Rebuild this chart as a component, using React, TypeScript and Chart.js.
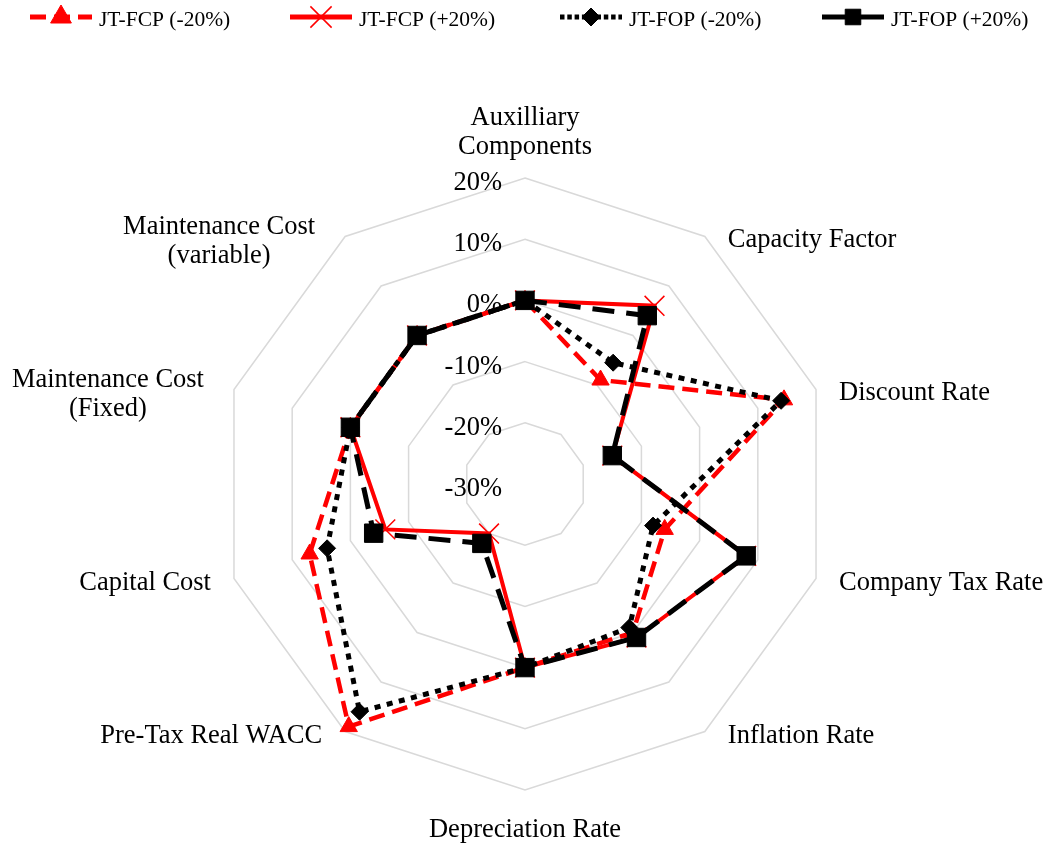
import React, { useEffect, useRef } from 'react';
import { Chart, registerables } from 'chart.js';

Chart.register(...registerables);

// ---------- data ----------
const categories: string[][] = [
  ['Auxilliary', 'Components'],
  ['Capacity Factor'],
  ['Discount Rate'],
  ['Company Tax Rate'],
  ['Inflation Rate'],
  ['Depreciation Rate'],
  ['Pre-Tax Real WACC'],
  ['Capital Cost'],
  ['Maintenance Cost', '(Fixed)'],
  ['Maintenance Cost', '(variable)'],
];

const seriesNames = ['JT-FCP (-20%)', 'JT-FCP (+20%)', 'JT-FOP (-20%)', 'JT-FOP (+20%)'];

const fcpMinus20 = [0, -9, 14.5, -6, 0, 0, 19, 7, 0, 0];
const fcpPlus20 = [0, 6, -15, 8, 1, 0, -20, -6, 0, 0];
const fopMinus20 = [0, -5.5, 14, -8, -1, 0, 16, 4, 0, 0];
const fopPlus20 = [0, 4, -15, 8, 1, 0, -18, -4, 0, 0];

const scaleMin = -30;
const scaleMax = 20;
const scaleStep = 10;

// ---------- styles ----------
const FONT = '"Liberation Serif", "Times New Roman", serif';

type SeriesStyle = {
  color: string;
  dash: number[];
  legendDash: number[];
  width: number;
  point: 'triangle' | 'crossRot' | 'rectRot' | 'rect';
  radius: number;
  legendRadius: number;
  pbw: number;
  order: number;
};

const styles: SeriesStyle[] = [
  { color: '#ff0000', dash: [16, 8], legendDash: [16, 8], width: 4.5, point: 'triangle', radius: 10, legendRadius: 12, pbw: 1, order: 4 },
  { color: '#ff0000', dash: [], legendDash: [], width: 4, point: 'crossRot', radius: 14, legendRadius: 15, pbw: 1.5, order: 3 },
  { color: '#000000', dash: [6, 6.5], legendDash: [4.5, 2.8], width: 5, point: 'rectRot', radius: 8.5, legendRadius: 9, pbw: 1, order: 2 },
  { color: '#000000', dash: [22, 12], legendDash: [], width: 5, point: 'rect', radius: 13, legendRadius: 11, pbw: 1, order: 1 },
];

const seriesData = [fcpMinus20, fcpPlus20, fopMinus20, fopPlus20];

function drawMarker(ctx: CanvasRenderingContext2D, st: SeriesStyle, x: number, y: number, r: number) {
  ctx.save();
  ctx.setLineDash([]);
  ctx.fillStyle = st.color;
  ctx.strokeStyle = st.color;
  ctx.lineWidth = st.pbw;
  ctx.beginPath();
  if (st.point === 'triangle') {
    ctx.moveTo(x, y - r);
    ctx.lineTo(x + r * 0.866, y + r * 0.5);
    ctx.lineTo(x - r * 0.866, y + r * 0.5);
    ctx.closePath();
    ctx.fill();
    ctx.stroke();
  } else if (st.point === 'crossRot') {
    const o = r * Math.SQRT1_2;
    ctx.moveTo(x - o, y - o);
    ctx.lineTo(x + o, y + o);
    ctx.moveTo(x - o, y + o);
    ctx.lineTo(x + o, y - o);
    ctx.stroke();
  } else if (st.point === 'rectRot') {
    ctx.moveTo(x, y - r);
    ctx.lineTo(x + r, y);
    ctx.lineTo(x, y + r);
    ctx.lineTo(x - r, y);
    ctx.closePath();
    ctx.fill();
    ctx.stroke();
  } else {
    const s = r * Math.SQRT1_2;
    ctx.rect(x - s, y - s, 2 * s, 2 * s);
    ctx.fill();
    ctx.stroke();
  }
  ctx.restore();
}

const legendStarts = [30, 290, 560, 822];

const decorPlugin = {
  id: 'decor',
  beforeDatasetsDraw(chart: any) {
    const s = chart.scales.r;
    const ctx: CanvasRenderingContext2D = chart.ctx;
    ctx.save();
    ctx.font = `26.5px ${FONT}`;
    ctx.fillStyle = '#000';
    ctx.textAlign = 'right';
    ctx.textBaseline = 'middle';
    s.ticks.forEach((t: any) => {
      const d = s.getDistanceFromCenterForValue(t.value);
      ctx.fillText(String(t.label), s.xCenter - 23, s.yCenter - d + 5);
    });
    ctx.restore();
  },
  afterDraw(chart: any) {
    const s = chart.scales.r;
    const ctx: CanvasRenderingContext2D = chart.ctx;
    ctx.save();
    // point labels
    ctx.font = `26.5px ${FONT}`;
    ctx.fillStyle = '#000';
    ctx.textBaseline = 'middle';
    const lh = 29;
    const n = categories.length;
    categories.forEach((lines, i) => {
      const p = s.getPointPosition(i, s.drawingArea);
      const deg = (i * 360) / n;
      if (deg === 0) {
        ctx.textAlign = 'center';
        const lastY = p.y - 31;
        lines.forEach((ln, k) => ctx.fillText(ln, p.x, lastY - (lines.length - 1 - k) * lh));
      } else if (deg === 180) {
        ctx.textAlign = 'center';
        lines.forEach((ln, k) => ctx.fillText(ln, p.x, p.y + 40 + k * lh));
      } else if (deg < 180) {
        ctx.textAlign = 'left';
        const cy = p.y + 4;
        lines.forEach((ln, k) => ctx.fillText(ln, p.x + 23, cy + (k - (lines.length - 1) / 2) * lh));
      } else {
        if (lines.length === 1) {
          ctx.textAlign = 'right';
          ctx.fillText(lines[0], p.x - 23, p.y + 4);
        } else {
          ctx.textAlign = 'center';
          const w = Math.max(...lines.map((ln) => ctx.measureText(ln).width));
          const cx = p.x - 30 - w / 2;
          const cy = p.y + 5;
          lines.forEach((ln, k) => ctx.fillText(ln, cx, cy + (k - (lines.length - 1) / 2) * lh));
        }
      }
    });

    // legend
    const ly = 17;
    seriesNames.forEach((name, i) => {
      const st = styles[i];
      const x0 = legendStarts[i];
      ctx.save();
      ctx.strokeStyle = st.color;
      ctx.lineWidth = 5;
      ctx.lineCap = 'butt';
      ctx.setLineDash(st.legendDash);
      ctx.beginPath();
      ctx.moveTo(x0, ly);
      ctx.lineTo(x0 + 62, ly);
      ctx.stroke();
      ctx.restore();
      drawMarker(ctx, st, x0 + 31, ly, st.legendRadius);
      ctx.font = `21.5px ${FONT}`;
      ctx.fillStyle = '#000';
      ctx.textAlign = 'left';
      ctx.textBaseline = 'middle';
      ctx.fillText(name, x0 + 69, 20);
    });
    ctx.restore();
  },
};

export default function App() {
  const ref = useRef<HTMLCanvasElement | null>(null);

  useEffect(() => {
    if (!ref.current) return;
    const chart = new Chart(ref.current, {
      type: 'radar',
      data: {
        labels: categories.map((c) => c.join(' ')),
        datasets: seriesNames.map((name, i) => {
          const st = styles[i];
          return {
            label: name,
            data: seriesData[i],
            borderColor: st.color,
            borderWidth: st.width,
            borderDash: st.dash,
            backgroundColor: 'transparent',
            fill: false,
            tension: 0,
            pointStyle: st.point,
            pointRadius: st.radius,
            pointHoverRadius: st.radius,
            pointBackgroundColor: st.color,
            pointBorderColor: st.color,
            pointBorderWidth: st.pbw,
            order: st.order,
          };
        }),
      },
      options: {
        responsive: false,
        animation: false,
        events: [],
        layout: { padding: 0 },
        plugins: {
          legend: { display: false },
          tooltip: { enabled: false },
        },
        scales: {
          r: {
            min: scaleMin,
            max: scaleMax,
            startAngle: 0,
            ticks: {
              stepSize: scaleStep,
              display: false,
              callback: (v: any) => `${v}%`,
            },
            grid: { color: '#d9d9d9', lineWidth: 1.5 },
            angleLines: { display: false },
            pointLabels: { display: false },
            afterFit: (sc: any) => {
              sc.xCenter = 525;
              sc.yCenter = 484;
              sc.drawingArea = 306;
            },
          },
        },
      } as any,
      plugins: [decorPlugin],
    });
    return () => chart.destroy();
  }, []);

  return (
    <div style={{ position: 'fixed', left: 0, top: 0, width: 1052, height: 847, background: '#fff' }}>
      <canvas ref={ref} width={1052} height={847} style={{ display: 'block' }} />
    </div>
  );
}
